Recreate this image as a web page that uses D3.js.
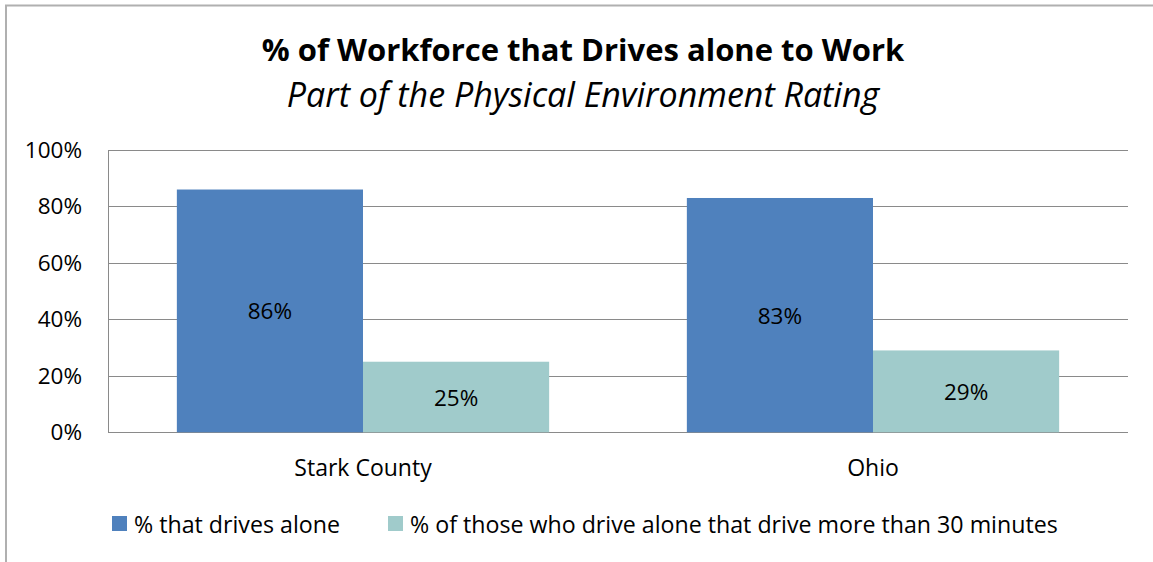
<!DOCTYPE html>
<html><head><meta charset="utf-8">
<script src="https://cdn.jsdelivr.net/npm/d3@7"></script>
<style>
body{margin:0;background:#fff;}
svg{display:block;font-family:"Open Sans",sans-serif;}
</style></head>
<body><svg id="c" width="1153" height="562"></svg>
<script>
const categories = ["Stark County", "Ohio"];
const seriesNames = ["% that drives alone", "% of those who drive alone that drive more than 30 minutes"];
const drivesAlone = [86, 83];
const over30 = [25, 29];
const yTicks = [0, 20, 40, 60, 80, 100];
const title = "% of Workforce that Drives alone to Work";
const subtitle = "Part of the Physical Environment Rating";
const colors = ["#4F81BD", "#A0CBCB"];

const svg = d3.select("#c");
// outer chart border
svg.append("path").attr("d","M6,562 V5.5 H1153").attr("fill","none").attr("stroke","#b0b0b0").attr("stroke-width",2);

const m = {left:108, right:1128, top:150, bottom:432.3};
const y = d3.scaleLinear().domain([0,100]).range([m.bottom, m.top]);
const x0 = d3.scaleBand().domain(categories).range([m.left, m.right]).paddingInner(0.27).paddingOuter(0.135);
const x1 = d3.scaleBand().domain([0,1]).range([0, x0.bandwidth()]);

// grid
svg.append("g").selectAll("line").data(yTicks).join("line")
  .attr("x1", m.left).attr("x2", m.right)
  .attr("y1", d=>Math.round(y(d))+0.5).attr("y2", d=>Math.round(y(d))+0.5)
  .attr("stroke","#8a8a8a").attr("stroke-width",1);
svg.append("line").attr("x1",m.left+0.5).attr("x2",m.left+0.5).attr("y1",m.top).attr("y2",m.bottom)
  .attr("stroke","#8a8a8a");

// y axis
const yAxis = d3.axisLeft(y).tickValues(yTicks).tickFormat(d=>d+"%").tickSize(0).tickPadding(26);
const ya = svg.append("g").attr("transform",`translate(${m.left},0)`).call(yAxis);
ya.select(".domain").remove();
ya.selectAll("text").attr("font-size",22.5).attr("fill","#000").attr("font-family","Open Sans");

// bars
const data = categories.map((c,i)=>({cat:c, vals:[drivesAlone[i], over30[i]]}));
const g = svg.append("g").selectAll("g").data(data).join("g").attr("transform",d=>`translate(${x0(d.cat)},0)`);
g.selectAll("rect").data(d=>d.vals.map((v,k)=>({v,k}))).join("rect")
  .attr("x",d=>x1(d.k)).attr("width",x1.bandwidth())
  .attr("y",d=>y(d.v)).attr("height",d=>y(0)-y(d.v)).attr("fill",d=>colors[d.k]);
g.selectAll("text").data(d=>d.vals.map((v,k)=>({v,k}))).join("text")
  .attr("x",d=>x1(d.k)+x1.bandwidth()/2).attr("y",d=>(y(d.v)+y(0))/2)
  .attr("text-anchor","middle").attr("dominant-baseline","central")
  .attr("font-size",22.5).text(d=>d.v+"%");

// x axis labels
svg.append("g").selectAll("text").data(categories).join("text")
  .attr("x",d=>x0(d)+x0.bandwidth()/2).attr("y",467).attr("text-anchor","middle")
  .attr("dominant-baseline","central").attr("font-size",23).text(d=>d);

// title
svg.append("text").attr("x",583).attr("y",61).attr("text-anchor","middle").attr("font-weight","bold").attr("font-size",31).text(title);
svg.append("text").attr("x",583).attr("y",107).attr("text-anchor","middle").attr("font-style","italic").attr("font-size",34).text(subtitle);

// legend
const legX = [112, 388];
const lg = svg.append("g").selectAll("g").data(seriesNames).join("g").attr("transform",(d,i)=>`translate(${legX[i]},516)`);
lg.append("rect").attr("width",15).attr("height",15).attr("fill",(d,i)=>colors[i]);
lg.append("text").attr("x",22).attr("y",8).attr("dominant-baseline","central").attr("font-size",23.2).text(d=>d);
</script></body></html>
